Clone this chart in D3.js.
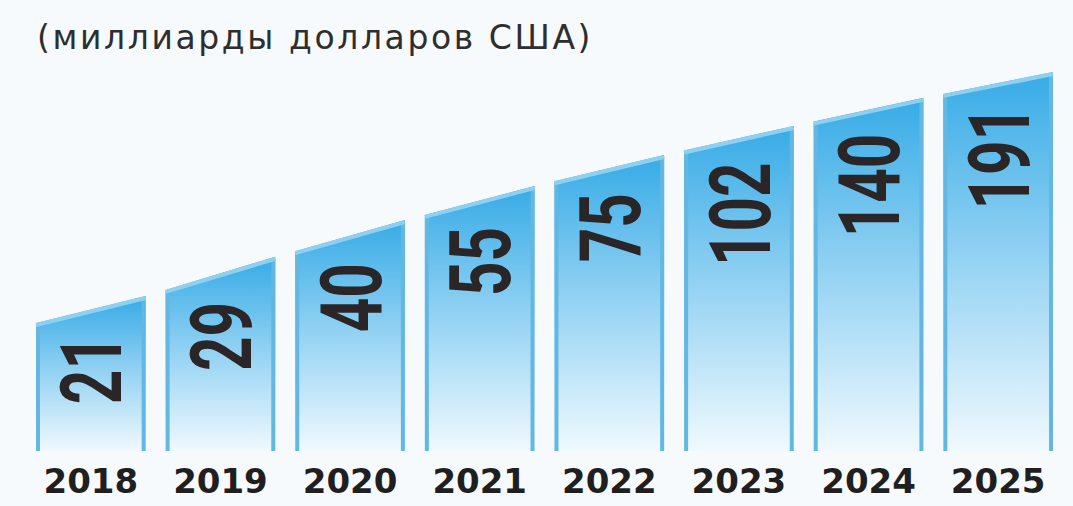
<!DOCTYPE html>
<html>
<head>
<meta charset="utf-8">
<script src="https://cdn.jsdelivr.net/npm/d3@7"></script>
<style>
  html, body { margin: 0; padding: 0; background: #f6fafd; }
  svg { display: block; }
</style>
</head>
<body>
<svg id="chart" width="1073" height="506"></svg>
<script>
// Annual volume, billions of US dollars
const years = ["2018", "2019", "2020", "2021", "2022", "2023", "2024", "2025"];
const values = [21, 29, 40, 55, 75, 102, 140, 191];
const unitLabel = "(миллиарды долларов США)";

const W = 1073, H = 506;
const baseY = 451;

const svg = d3.select("#chart");

svg.append("rect").attr("width", W).attr("height", H).attr("fill", "#f6fafd");

const x = d3.scaleBand()
  .domain(years)
  .range([36, 1053])
  .paddingInner(0.154)
  .paddingOuter(0);

// Stylised, strongly compressed height scale for the bar tops
const y = d3.scalePow()
  .exponent(-0.2)
  .domain([21, 191])
  .range([296, 72]);

const step = x.step();
const bw = x.bandwidth();

// The tops form one rising line, vertices at each bar's right edge
const meanSlope = (y(values[values.length - 1]) - y(values[0])) / (step * (values.length - 1));
function topLeft(i) {
  const yi = y(values[i]);
  if (i === 0) return yi - meanSlope * bw;
  const yp = y(values[i - 1]);
  return yp + (yi - yp) * (step - bw) / step;
}

const bars = years.map((yr, i) => ({
  year: yr,
  value: values[i],
  x0: x(yr),
  x1: x(yr) + bw,
  yL: topLeft(i),
  yR: y(values[i])
}));

const defs = svg.append("defs");
const grad = defs.append("linearGradient")
  .attr("id", "barFill")
  .attr("x1", 0).attr("y1", 0).attr("x2", 0).attr("y2", 1);
grad.append("stop").attr("offset", "0%").attr("stop-color", "#36abe6");
grad.append("stop").attr("offset", "45%").attr("stop-color", "#8ccff2");
grad.append("stop").attr("offset", "100%").attr("stop-color", "#f0f9fe");

const g = svg.append("g");

const bar = g.selectAll("g.bar").data(bars).join("g").attr("class", "bar");

bar.append("path")
  .attr("d", d => `M${d.x0},${baseY}L${d.x0},${d.yL}L${d.x1},${d.yR}L${d.x1},${baseY}Z`)
  .attr("fill", "url(#barFill)");

// side edges
bar.append("path")
  .attr("d", d => `M${d.x0 + 2},${baseY}L${d.x0 + 2},${d.yL + 2}`)
  .attr("stroke", "#62b8e2")
  .attr("stroke-width", 4)
  .attr("fill", "none");
bar.append("path")
  .attr("d", d => `M${d.x1 - 2},${baseY}L${d.x1 - 2},${d.yR + 2}`)
  .attr("stroke", "#62b8e2")
  .attr("stroke-width", 4)
  .attr("fill", "none");

// light band along the slanted top
bar.append("path")
  .attr("d", d => `M${d.x0},${d.yL + 2}L${d.x1},${d.yR + 2}`)
  .attr("stroke", "#8dd0f1")
  .attr("stroke-width", 4)
  .attr("fill", "none");

// value labels, rotated and condensed
const valueSize = 86;
const capH = valueSize * 0.711;
bar.append("text")
  .attr("transform", d => {
    const cx = (d.x0 + d.x1) / 2 + capH / 2;
    return `translate(${cx},${d.yL + 12}) rotate(-90) scale(0.7,1)`;
  })
  .attr("text-anchor", "end")
  .attr("font-family", "Roboto, 'DejaVu Sans', sans-serif")
  .attr("font-weight", 700)
  .attr("font-size", valueSize)
  .attr("fill", "#2a2627")
  .text(d => d.value);

// year labels
const xAxis = d3.axisBottom(x).tickSize(0).tickPadding(0);
const axisG = svg.append("g")
  .attr("transform", `translate(0,${baseY})`)
  .call(xAxis);
axisG.select(".domain").remove();
axisG.selectAll("text")
  .attr("y", 42)
  .attr("dy", null)
  .attr("font-family", "'DejaVu Sans', sans-serif")
  .attr("font-weight", 700)
  .attr("font-size", 34)
  .attr("fill", "#1f1f1f");

// unit caption
svg.append("text")
  .attr("x", 37)
  .attr("y", 49)
  .attr("font-family", "'DejaVu Sans', sans-serif")
  .attr("font-size", 33)
  .attr("letter-spacing", 2.6)
  .attr("fill", "#2e2e2e")
  .text(unitLabel);
</script>
</body>
</html>
